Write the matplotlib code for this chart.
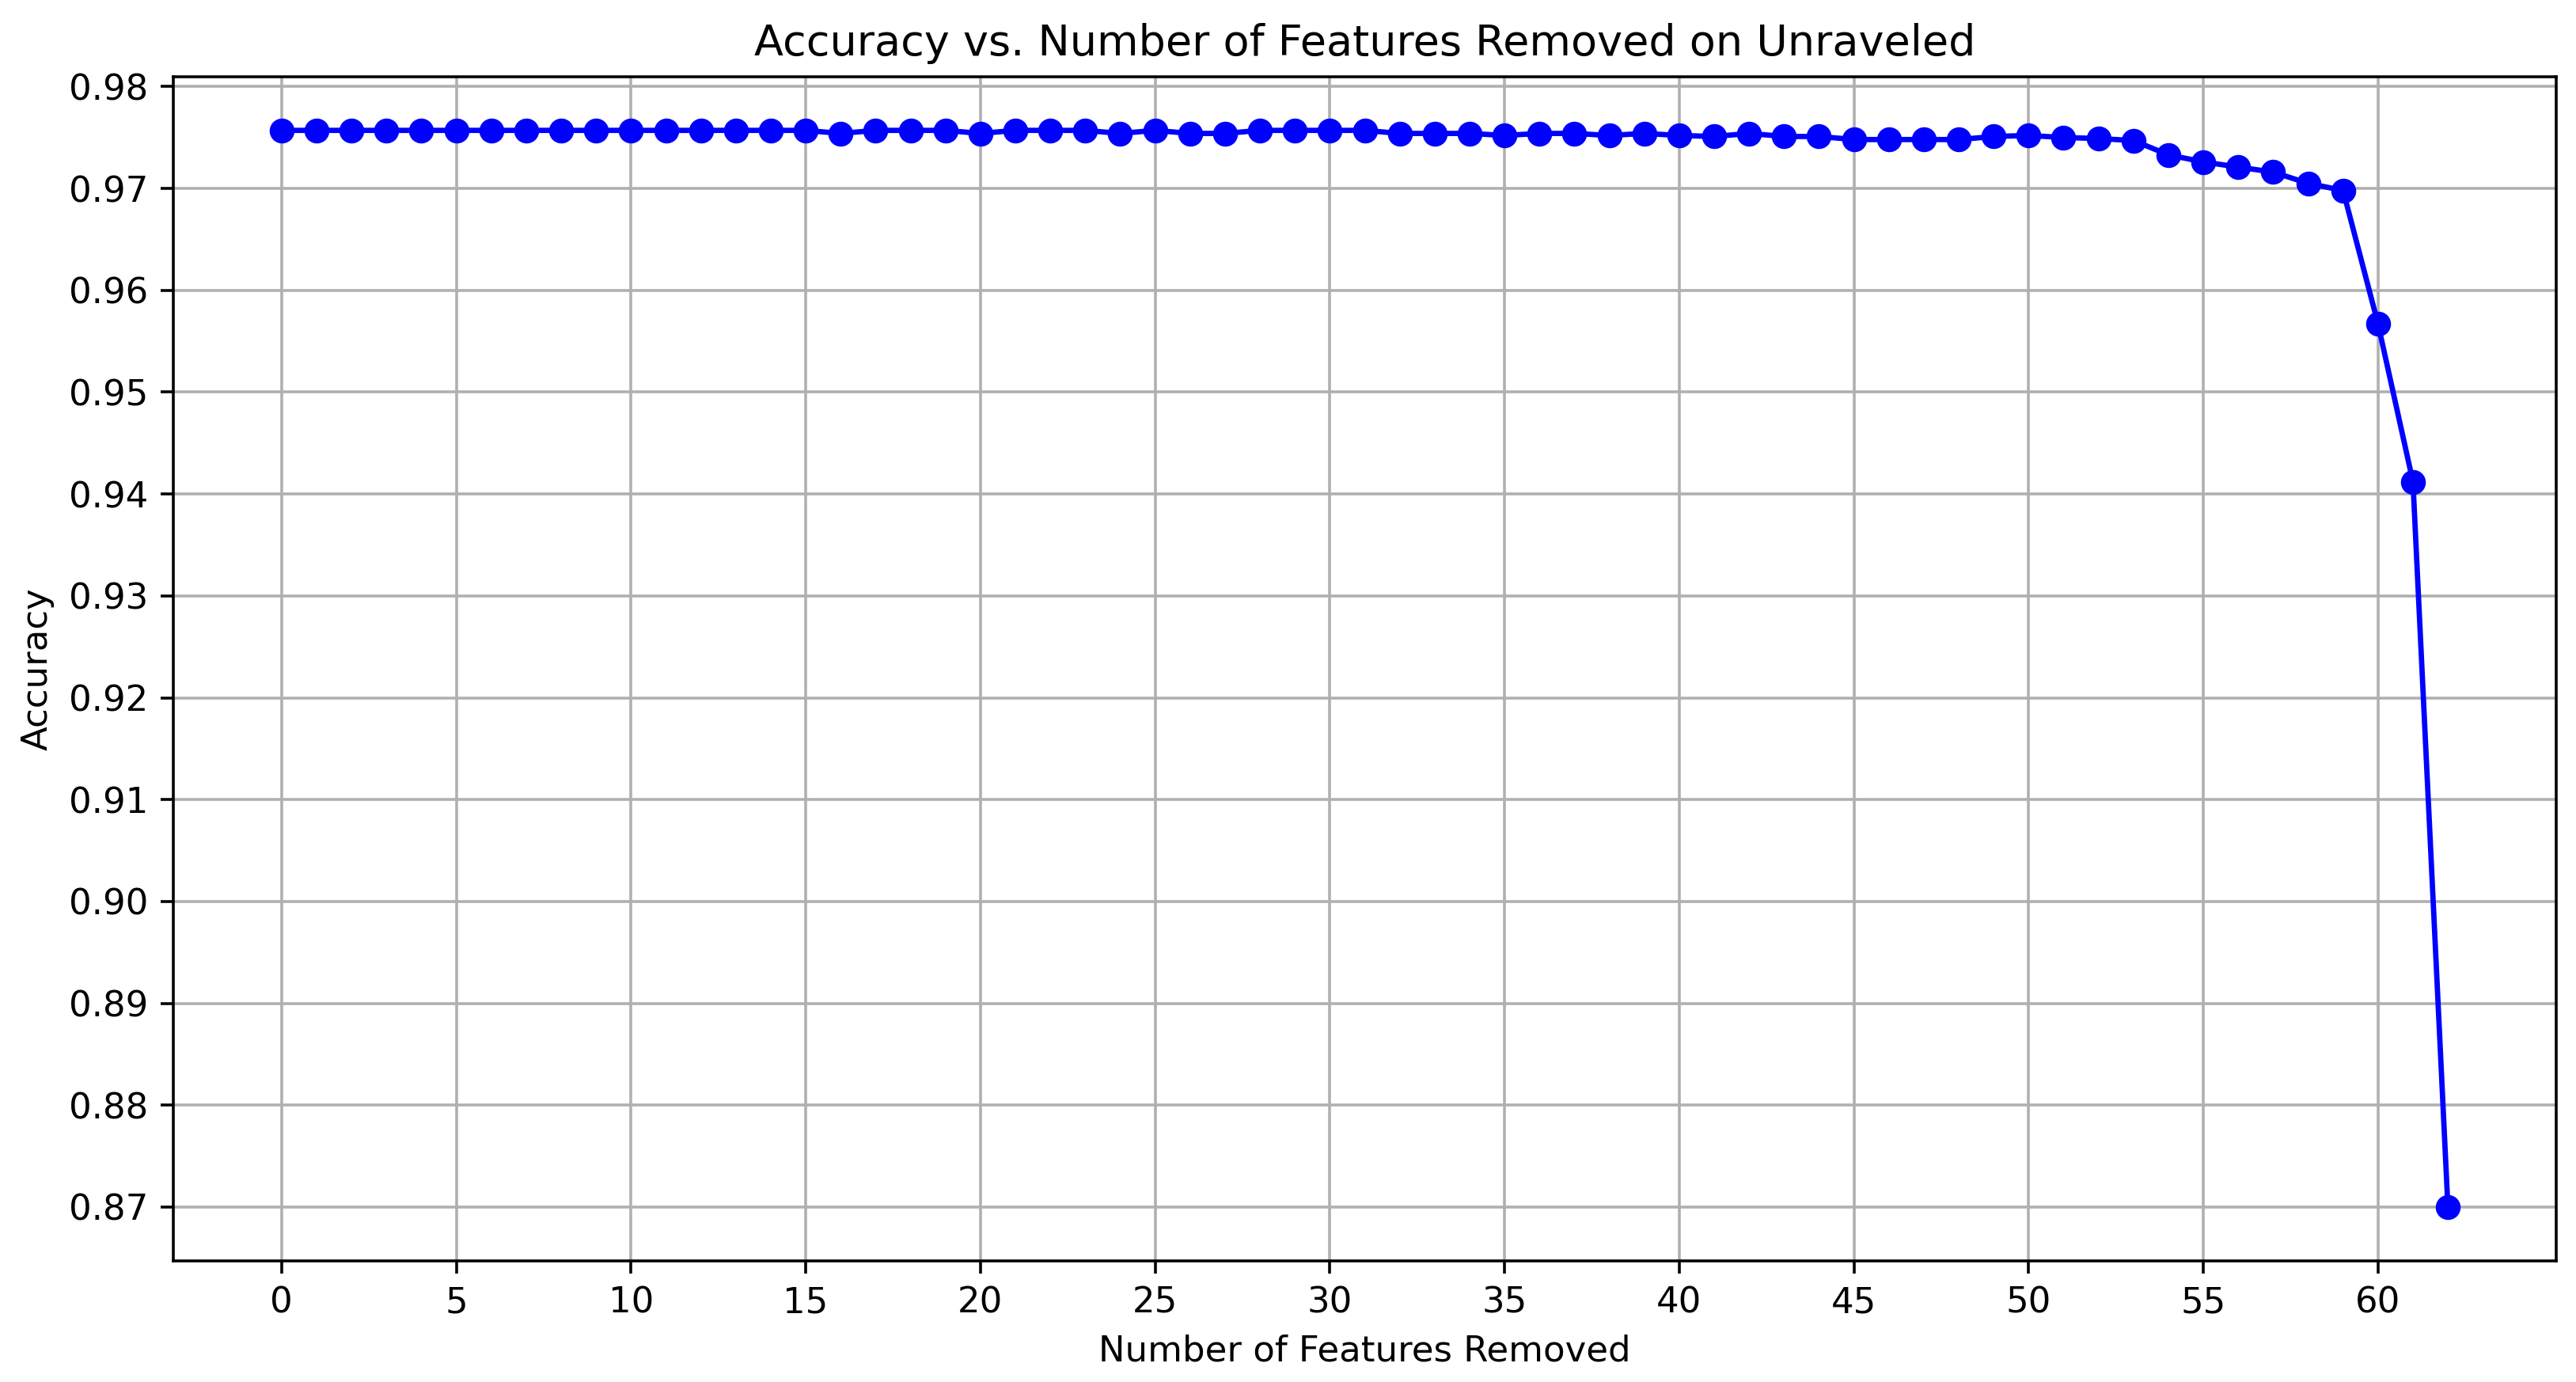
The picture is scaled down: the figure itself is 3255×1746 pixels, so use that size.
import matplotlib
matplotlib.use("Agg")
import matplotlib.pyplot as plt

features_removed = list(range(63))
accuracy = [
    0.9757, 0.9757, 0.9757, 0.9757, 0.9757, 0.9757, 0.9757, 0.9757, 0.9757, 0.9757,
    0.9757, 0.9757, 0.9757, 0.9757, 0.9757, 0.9757, 0.9754, 0.9757, 0.9757, 0.9757,
    0.9754, 0.9757, 0.9757, 0.9757, 0.9754, 0.9757, 0.9754, 0.9754, 0.9757, 0.9757,
    0.9757, 0.9757, 0.9754, 0.9754, 0.9754, 0.9752, 0.9754, 0.9754, 0.9752, 0.9754,
    0.9752, 0.9751, 0.9754, 0.9751, 0.9751, 0.9748, 0.9748, 0.9748, 0.9748, 0.9751,
    0.9752, 0.9750, 0.9749, 0.9747, 0.9733, 0.9726, 0.9721, 0.9716, 0.9705, 0.9698,
    0.9567, 0.9412, 0.8700,
]
x_ticks = [0, 5, 10, 15, 20, 25, 30, 35, 40, 45, 50, 55, 60]
y_ticks = [0.87, 0.88, 0.89, 0.90, 0.91, 0.92, 0.93, 0.94, 0.95, 0.96, 0.97, 0.98]

DPI = 324
fig = plt.figure(figsize=(3255 / DPI, 1746 / DPI), dpi=DPI)
ax = fig.add_axes([219 / 3255, 1 - 1593 / 1746, (3230 - 219) / 3255, (1593 - 96.7) / 1746])

ax.plot(features_removed, accuracy, marker="o", color="b", linestyle="-")
ax.set_xticks(x_ticks)
ax.set_yticks(y_ticks)
ax.set_yticklabels([f"{v:.2f}" for v in y_ticks])
ax.set_title("Accuracy vs. Number of Features Removed on Unraveled")
ax.set_xlabel("Number of Features Removed")
ax.set_ylabel("Accuracy")
ax.grid(True)

fig.savefig("out.png", dpi=DPI)
